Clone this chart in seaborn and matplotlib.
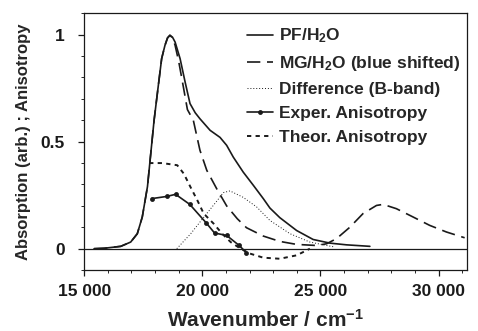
import matplotlib
matplotlib.use("Agg")
import matplotlib.pyplot as plt
import seaborn as sns
from matplotlib.ticker import MultipleLocator, FixedLocator, FuncFormatter

# ---- data ----
pf_x = [15420, 15850, 16550, 16970, 17250, 17460, 17680, 17820, 17960, 18140, 18280, 18420,
        18530, 18630, 18740, 18850, 19060, 19270, 19480, 19700, 19900, 20330, 20750, 21030,
        21310, 21730, 22160, 22580, 22860, 23280, 23990, 24690, 25400, 26100, 27090]
pf_y = [0.0, 0.002, 0.011, 0.031, 0.07, 0.148, 0.29, 0.445, 0.60, 0.763, 0.888, 0.95,
        0.985, 0.997, 0.988, 0.965, 0.888, 0.78, 0.678, 0.635, 0.607, 0.553, 0.52, 0.483,
        0.428, 0.358, 0.296, 0.234, 0.19, 0.145, 0.085, 0.043, 0.026, 0.018, 0.011]

mg_x = [15420, 15850, 16550, 16970, 17250, 17460, 17680, 17820, 17960, 18140, 18280, 18420,
        18530, 18630, 18740, 18850, 19010, 19200, 19370, 19620, 19900, 20190, 20610, 21030,
        21480, 21870, 22580, 23280, 23990, 24830, 25260, 25680, 26240, 26800, 27370, 27650,
        28210, 28920, 29620, 30330, 31100]
mg_y = [0.0, 0.002, 0.011, 0.031, 0.07, 0.148, 0.29, 0.445, 0.60, 0.763, 0.888, 0.95,
        0.985, 0.997, 0.985, 0.95, 0.87, 0.755, 0.65, 0.60, 0.46, 0.366, 0.28, 0.20,
        0.14, 0.098, 0.059, 0.034, 0.02, 0.015, 0.023, 0.047, 0.10, 0.164, 0.202, 0.207,
        0.187, 0.148, 0.109, 0.078, 0.051]

diff_x = [18920, 19510, 20070, 20640, 20890, 21170, 21730, 22300, 22860, 23710, 24550, 25260, 25600]
diff_y = [0.0, 0.07, 0.148, 0.226, 0.262, 0.27, 0.24, 0.195, 0.132, 0.07, 0.031, 0.015, 0.008]

exp_x = [17860, 18490, 18870, 19470, 20170, 20520, 21030, 21560, 21870]
exp_y = [0.234, 0.244, 0.254, 0.207, 0.12, 0.073, 0.062, 0.015, -0.019]

theo_x = [17750, 18300, 18940, 19220, 19500, 19790, 20060, 20480, 20840, 21200, 21620,
          22020, 22580, 23280, 23990, 24410, 24550]
theo_y = [0.40, 0.40, 0.39, 0.35, 0.288, 0.226, 0.164, 0.117, 0.07, 0.031, 0.0,
          -0.023, -0.042, -0.047, -0.031, -0.008, 0.0]

labels = ["PF/H$_2$O", "MG/H$_2$O (blue shifted)", "Difference (B-band)",
          "Exper. Anisotropy", "Theor. Anisotropy"]
x_ticks = [15000, 20000, 25000, 30000]
y_ticks = [0, 0.5, 1]

# ---- plotting ----
sns.set_theme(style="ticks")
plt.rcParams['font.family'] = ['Liberation Sans', 'DejaVu Sans']
plt.rcParams['font.weight'] = 'bold'
plt.rcParams['mathtext.fontset'] = 'custom'
plt.rcParams['mathtext.rm'] = 'Liberation Sans:bold'
plt.rcParams['mathtext.bf'] = 'Liberation Sans:bold'
plt.rcParams['mathtext.default'] = 'bf'

fig = plt.figure(figsize=(4.78, 3.31), dpi=100)
ax = fig.add_axes([0.176, 0.184, 0.801, 0.776])

ax.axhline(0, color='k', lw=0.9)

sns.lineplot(x=pf_x, y=pf_y, ax=ax, color='k', lw=1.2, label=labels[0], estimator=None, sort=False)
sns.lineplot(x=mg_x, y=mg_y, ax=ax, color='k', lw=1.2, linestyle=(0, (8, 4)), label=labels[1],
             estimator=None, sort=False)
sns.lineplot(x=diff_x, y=diff_y, ax=ax, color='k', lw=0.7, linestyle=(0, (1, 2)), label=labels[2],
             estimator=None, sort=False)
sns.lineplot(x=exp_x, y=exp_y, ax=ax, color='k', lw=1.2, marker='o', markersize=3.5,
             markeredgewidth=0, label=labels[3], estimator=None, sort=False)
sns.lineplot(x=theo_x, y=theo_y, ax=ax, color='k', lw=1.4, linestyle=(0, (2.2, 2.2)), label=labels[4],
             estimator=None, sort=False)

ax.set_xlim(15000, 31200)
ax.set_ylim(-0.1, 1.1)
ax.xaxis.set_major_locator(FixedLocator(x_ticks))
ax.xaxis.set_minor_locator(MultipleLocator(1000))
ax.yaxis.set_major_locator(FixedLocator(y_ticks))
ax.yaxis.set_minor_locator(MultipleLocator(0.1))
ax.xaxis.set_major_formatter(FuncFormatter(lambda v, p: f"{int(v)//1000} 000"))
ax.yaxis.set_major_formatter(FuncFormatter(lambda v, p: f"{v:g}"))

ax.tick_params(axis='both', which='major', direction='out', length=4, width=0.9,
               labelsize=12.5, colors='k', pad=6)
ax.tick_params(axis='y', which='major', pad=10)
ax.tick_params(axis='both', which='minor', direction='out', length=2.5, width=0.7)
for lab in ax.get_xticklabels() + ax.get_yticklabels():
    lab.set_fontweight('bold')
for s in ax.spines.values():
    s.set_visible(True)
    s.set_color('k')
    s.set_linewidth(0.9)

ax.set_xlabel("Wavenumber / cm$^{-1}$", fontsize=15, fontweight='bold')
ax.xaxis.set_label_coords(0.475, -0.15)
ax.set_ylabel("Absorption (arb.) ; Anisotropy", fontsize=12, fontweight='bold', labelpad=7)

leg = ax.legend(loc='upper left', frameon=False, prop={'weight': 'bold', 'size': 12.5},
                handlelength=1.5, handletextpad=0.35, labelspacing=0.51,
                bbox_to_anchor=(0.426, 0.948), borderpad=0, borderaxespad=0)

fig.savefig("out.png", dpi=100)
